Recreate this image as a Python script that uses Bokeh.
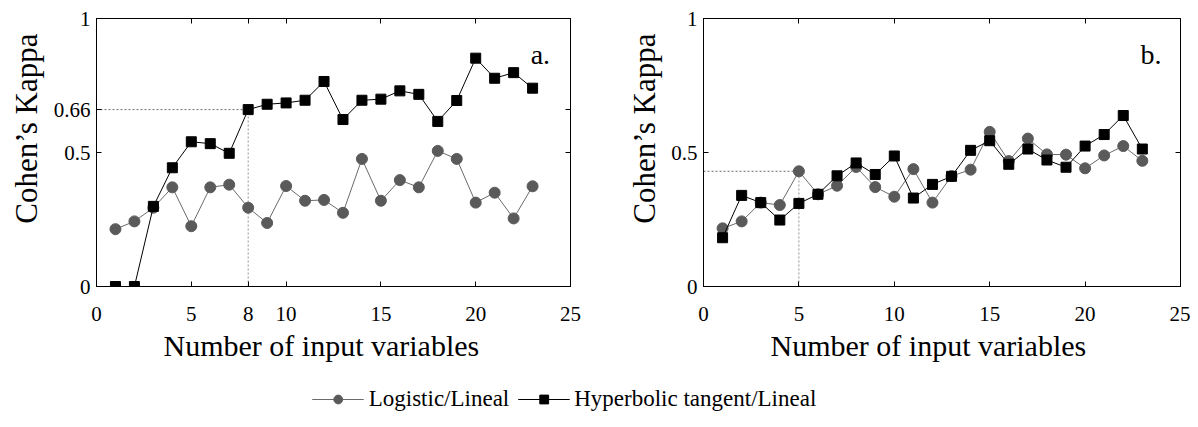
from bokeh.plotting import figure
from bokeh.layouts import column, row
from bokeh.models import (LinearAxis, FixedTicker, Range1d, Label, Legend, LegendItem, Title)
from bokeh.embed import file_html
from bokeh.resources import INLINE

# ---------------- data ----------------
n_inputs = list(range(1, 24))

# panel a.
a_logistic = [0.214, 0.243, 0.294, 0.370, 0.225, 0.370, 0.380, 0.294, 0.237, 0.375,
              0.320, 0.323, 0.275, 0.476, 0.320, 0.397, 0.370, 0.506, 0.476, 0.313,
              0.350, 0.254, 0.374]
a_tanh = [0.0, 0.0, 0.299, 0.443, 0.540, 0.533, 0.497, 0.660, 0.680, 0.685,
          0.695, 0.765, 0.623, 0.695, 0.699, 0.730, 0.717, 0.616, 0.694, 0.852,
          0.777, 0.798, 0.740]
a_ref_x = 8
a_ref_y = 0.66

# panel b.
b_logistic = [0.217, 0.243, 0.313, 0.304, 0.430, 0.344, 0.376, 0.446, 0.371, 0.335,
              0.438, 0.313, 0.412, 0.436, 0.577, 0.468, 0.552, 0.493, 0.492, 0.441,
              0.489, 0.524, 0.469]
b_tanh = [0.182, 0.340, 0.313, 0.248, 0.310, 0.344, 0.413, 0.461, 0.418, 0.487,
          0.330, 0.381, 0.411, 0.508, 0.544, 0.456, 0.513, 0.472, 0.445, 0.524,
          0.567, 0.638, 0.513]
b_ref_x = 5
b_ref_y = 0.43

a_xticks = [0, 5, 8, 10, 15, 20, 25]
a_yticks = [0, 0.5, 0.66, 1]
a_ylabels = {0: "0", 0.5: "0.5", 0.66: "0.66", 1: "1"}
b_xticks = [0, 5, 10, 15, 20, 25]
b_yticks = [0, 0.5, 1]
b_ylabels = {0: "0", 0.5: "0.5", 1: "1"}

x_title = "Number of input variables"
y_title = "Cohen\u2019s Kappa"
series_names = ["Logistic/Lineal", "Hyperbolic tangent/Lineal"]
panel_tags = ["a.", "b."]

FONT = "Liberation Serif"
GRAY = "#5a5a5a"
LGRAY = "#6a6a6a"


def style_axis(ax, ticks, labels=None, show_labels=True):
    ax.ticker = FixedTicker(ticks=ticks)
    ax.major_tick_in = 5
    ax.major_tick_out = 0
    ax.minor_tick_line_color = None
    ax.axis_line_color = "black"
    ax.major_tick_line_color = "black"
    ax.major_label_text_font = FONT
    if labels is not None:
        ax.major_label_overrides = labels
    if show_labels:
        ax.major_label_text_font_size = "21px"
        ax.major_label_text_color = "black"
    else:
        ax.major_label_text_font_size = "0px"
        ax.major_label_text_color = None
        ax.major_label_standoff = 0


def make_panel(width, border_right, ytitle_standoff, logi, tanh, ref_x, ref_y,
               xticks, yticks, ylabels, tag):
    p = figure(width=width, height=373, output_backend="svg", toolbar_location=None,
               x_range=Range1d(0, 25), y_range=Range1d(0, 1),
               min_border_left=93, min_border_right=border_right,
               min_border_top=18, min_border_bottom=87)
    p.grid.visible = False
    p.outline_line_color = "black"
    p.background_fill_color = "white"
    p.border_fill_color = "white"

    style_axis(p.xaxis[0], xticks)
    p.xaxis[0].major_label_standoff = 20
    style_axis(p.yaxis[0], yticks, ylabels)
    p.yaxis[0].major_label_standoff = 6

    top = LinearAxis()
    style_axis(top, xticks, show_labels=False)
    p.add_layout(top, "above")
    right = LinearAxis()
    style_axis(right, yticks, show_labels=False)
    p.add_layout(right, "right")

    # axis titles (as side titles so they can be offset like the original)
    p.add_layout(Title(text=x_title, align="left", offset=67, standoff=7,
                       text_font=FONT, text_font_size="30px", text_font_style="normal",
                       text_color="black"), "below")
    p.add_layout(Title(text=y_title, align="right", offset=15, standoff=ytitle_standoff,
                       text_font=FONT, text_font_size="31px", text_font_style="normal",
                       text_color="black"), "left")

    # reference dotted lines
    p.line([0, ref_x], [ref_y, ref_y], line_color="#444444", line_width=0.8, line_dash="2 2")
    p.line([ref_x, ref_x], [0, ref_y], line_color="#777777", line_width=0.8, line_dash="2 2")

    p.line(n_inputs, logi, line_color=LGRAY, line_width=1)
    p.scatter(n_inputs, logi, marker="circle", size=11, fill_color=GRAY, line_color=GRAY)
    p.line(n_inputs, tanh, line_color="black", line_width=1)
    p.scatter(n_inputs, tanh, marker="square", size=10, fill_color="black", line_color="black")

    # panel tag
    p.add_layout(Label(x=22.9, y=0.866, text=tag, text_font=FONT, text_font_size="28px",
                       text_color="black", text_baseline="alphabetic"))
    return p


p1 = make_panel(610, 40, 13, a_logistic, a_tanh, a_ref_x, a_ref_y,
                a_xticks, a_yticks, a_ylabels, panel_tags[0])
p2 = make_panel(580, 10, 14, b_logistic, b_tanh, b_ref_x, b_ref_y,
                b_xticks, b_yticks, b_ylabels, panel_tags[1])

# legend strip
lg = figure(width=1128, height=52, output_backend="svg", toolbar_location=None,
            x_range=Range1d(0, 1), y_range=Range1d(0, 1),
            min_border_left=0, min_border_right=0, min_border_top=0, min_border_bottom=0,
            x_axis_type=None, y_axis_type=None)
lg.grid.visible = False
lg.outline_line_color = None
hx = [-2, -1]
hy = [-2, -1]
r1l = lg.line(hx, hy, line_color=LGRAY, line_width=1)
r1s = lg.scatter(hx, hy, marker="circle", size=9, fill_color=GRAY, line_color=GRAY)
r2l = lg.line(hx, hy, line_color="black", line_width=1)
r2s = lg.scatter(hx, hy, marker="square", size=7, fill_color="black", line_color="black")
legend = Legend(items=[LegendItem(label=series_names[0], renderers=[r1l, r1s]),
                       LegendItem(label=series_names[1], renderers=[r2l, r2s])],
                orientation="horizontal", location="bottom_center", margin=13,
                glyph_width=52, glyph_height=22, label_standoff=5, spacing=8,
                padding=0, border_line_color=None, background_fill_alpha=0,
                label_text_font=FONT, label_text_font_size="23px", label_text_color="black")
lg.add_layout(legend, "center")

layout = column(row(p1, p2), lg)
open("out.html", "w").write(file_html(layout, INLINE))
